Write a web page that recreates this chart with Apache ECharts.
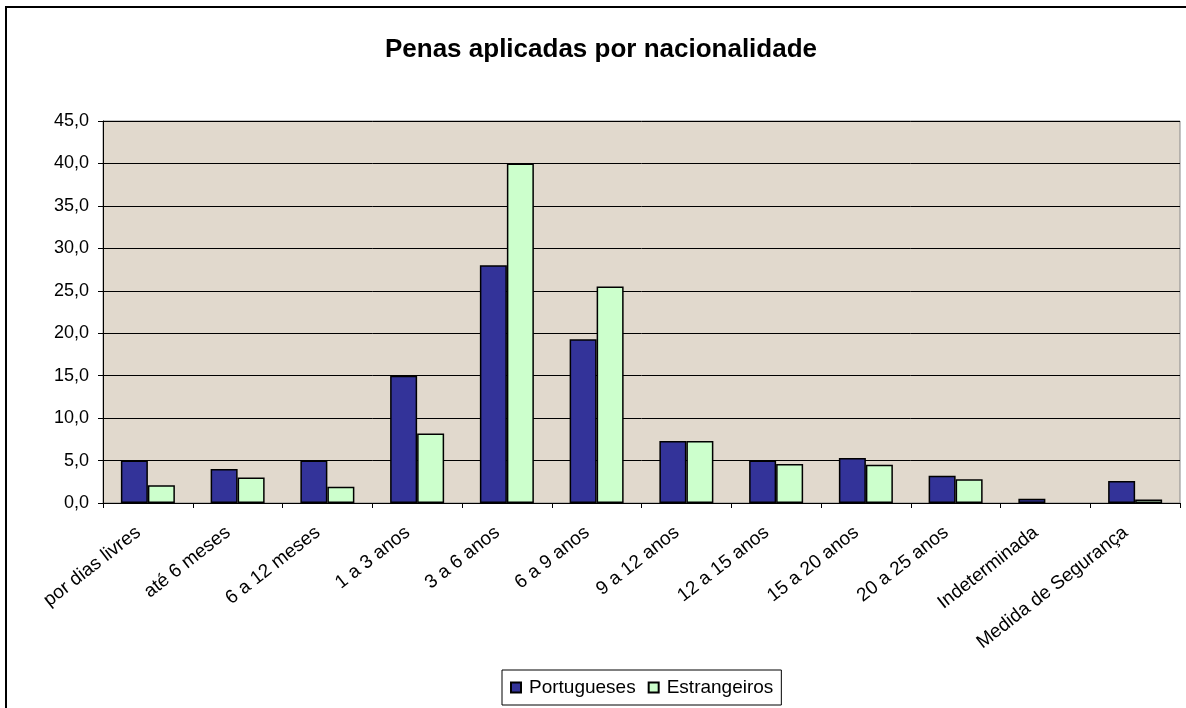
<!DOCTYPE html>
<html>
<head>
<meta charset="utf-8">
<script src="https://cdn.jsdelivr.net/npm/echarts@6/dist/echarts.min.js"></script>
<style>
  html, body { margin: 0; padding: 0; background: #fff; }
  #chart { width: 1186px; height: 708px; }
</style>
</head>
<body>
<div id="chart"></div>
<script>
const categories = ['por dias livres', 'até 6 meses', '6 a 12 meses', '1 a 3 anos', '3 a 6 anos', '6 a 9 anos',
    '9 a 12 anos', '12 a 15 anos', '15 a 20 anos', '20 a 25 anos', 'Indeterminada', 'Medida de Segurança'];
const portugueses = [5.0, 4.0, 5.0, 15.0, 28.0, 19.3, 7.3, 5.0, 5.3, 3.2, 0.5, 2.6];
const estrangeiros = [2.1, 3.0, 1.9, 8.2, 40.0, 25.5, 7.3, 4.6, 4.5, 2.8, 0, 0.4];
const seriesNames = ['Portugueses', 'Estrangeiros'];

const FONT = '"Liberation Sans", Arial, sans-serif';

// empty values get no outline (Excel draws nothing for a zero bar)
const toBarData = arr => arr.map(v => v === 0 ? { value: v, itemStyle: { borderWidth: 0 } } : v);

const chart = echarts.init(document.getElementById('chart'), null, { renderer: 'canvas' });

chart.setOption({
    backgroundColor: '#ffffff',
    animation: false,
    title: {
        text: 'Penas aplicadas por nacionalidade',
        left: 596,
        top: 32,
        textAlign: 'center',
        textStyle: { fontFamily: FONT, fontSize: 26, fontWeight: 'bold', color: '#000' }
    },
    graphic: [{
        type: 'rect',
        shape: { x: 6, y: 7, width: 1210, height: 730 },
        style: { fill: 'none', stroke: '#000', lineWidth: 2 },
        silent: true
    }],
    legend: {
        data: seriesNames,
        left: 502,
        top: 670,
        padding: [8, 8, 8, 8],
        itemWidth: 10,
        itemHeight: 10,
        itemGap: 12,
        icon: 'rect',
        borderColor: '#000',
        borderWidth: 1,
        textStyle: { fontFamily: FONT, fontSize: 19, color: '#000', padding: [0, 0, 0, 3] }
    },
    grid: {
        left: 103, right: 6, top: 121, bottom: 205,
        show: true,
        backgroundColor: '#e1d9cd',
        borderColor: '#888',
        borderWidth: 1
    },
    xAxis: {
        type: 'category',
        data: categories,
        axisLine: { lineStyle: { color: '#000', width: 1 } },
        axisTick: { show: true, length: 5, lineStyle: { color: '#000' } },
        axisLabel: {
            interval: 0,
            rotate: 38,
            margin: 20,
            padding: [0, 12, 0, 0],
            fontFamily: FONT,
            fontSize: 19,
            color: '#000'
        }
    },
    yAxis: {
        type: 'value',
        min: 0,
        max: 45,
        interval: 5,
        axisLine: { show: true, lineStyle: { color: '#000', width: 1 } },
        axisTick: { show: true, length: 5, lineStyle: { color: '#000' } },
        splitLine: { lineStyle: { color: '#000', width: 1 } },
        axisLabel: {
            margin: 14,
            fontFamily: FONT,
            fontSize: 18,
            color: '#000',
            formatter: v => v.toFixed(1).replace('.', ',')
        }
    },
    series: [
        {
            name: seriesNames[0], type: 'bar',
            data: toBarData(portugueses),
            barWidth: 27, barGap: '0%',
            itemStyle: { color: '#333399', borderColor: '#000', borderWidth: 1.5 }
        },
        {
            name: seriesNames[1], type: 'bar',
            data: toBarData(estrangeiros),
            barWidth: 27,
            itemStyle: { color: '#ccffcc', borderColor: '#000', borderWidth: 1.5 }
        }
    ]
});
</script>
</body>
</html>
